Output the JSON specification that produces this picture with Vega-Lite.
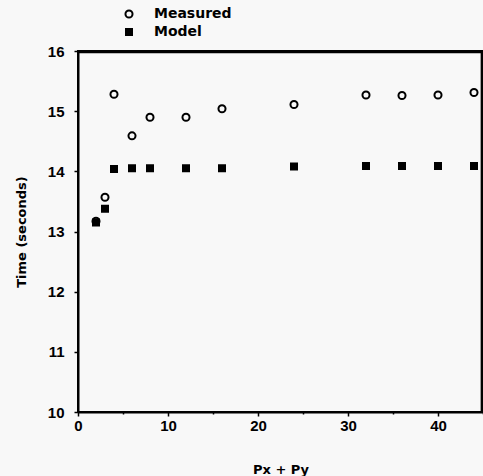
{
  "$schema": "https://vega.github.io/schema/vega-lite/v6.json",
  "width": 405,
  "height": 361,
  "autosize": {"type": "none"},
  "padding": {"left": 78, "top": 51, "right": 0, "bottom": 64},
  "background": "#f8f8f8",
  "config": {
    "view": {"stroke": "black", "strokeWidth": 2},
    "axis": {"grid": false, "domainColor": "black", "domainWidth": 2, "tickColor": "black", "tickWidth": 1.5, "labelFont": "Liberation Sans", "labelFontWeight": "bold", "labelFontSize": 15, "labelColor": "black", "titleFont": "DejaVu Sans", "titleFontWeight": "bold", "titleFontSize": 13, "titleColor": "black"}
  },
  "datasets": {
    "points": [
      {"px": 2, "t": 13.17, "series": "Measured"},
      {"px": 3, "t": 13.57, "series": "Measured"},
      {"px": 4, "t": 15.28, "series": "Measured"},
      {"px": 6, "t": 14.59, "series": "Measured"},
      {"px": 8, "t": 14.9, "series": "Measured"},
      {"px": 12, "t": 14.9, "series": "Measured"},
      {"px": 16, "t": 15.04, "series": "Measured"},
      {"px": 24, "t": 15.11, "series": "Measured"},
      {"px": 32, "t": 15.27, "series": "Measured"},
      {"px": 36, "t": 15.26, "series": "Measured"},
      {"px": 40, "t": 15.27, "series": "Measured"},
      {"px": 44, "t": 15.31, "series": "Measured"},
      {"px": 2, "t": 13.15, "series": "Model"},
      {"px": 3, "t": 13.38, "series": "Model"},
      {"px": 4, "t": 14.04, "series": "Model"},
      {"px": 6, "t": 14.05, "series": "Model"},
      {"px": 8, "t": 14.05, "series": "Model"},
      {"px": 12, "t": 14.05, "series": "Model"},
      {"px": 16, "t": 14.05, "series": "Model"},
      {"px": 24, "t": 14.08, "series": "Model"},
      {"px": 32, "t": 14.09, "series": "Model"},
      {"px": 36, "t": 14.09, "series": "Model"},
      {"px": 40, "t": 14.09, "series": "Model"},
      {"px": 44, "t": 14.09, "series": "Model"}
    ],
    "frame": [{"x0": 0, "x1": 44.85, "y0": 10, "y1": 15.98}]
  },
  "layer": [
    {
      "data": {"name": "frame"},
      "mark": {"type": "rect", "fill": null, "fillOpacity": 0, "stroke": "black", "strokeWidth": 2},
      "encoding": {
        "x": {"field": "x0", "type": "quantitative"},
        "x2": {"field": "x1"},
        "y": {"field": "y0", "type": "quantitative"},
        "y2": {"field": "y1"}
      }
    },
    {
      "data": {"name": "points"},
      "mark": {"type": "point", "stroke": "black", "strokeWidth": 2, "opacity": 1},
      "encoding": {
        "x": {
          "field": "px", "type": "quantitative",
          "scale": {"domain": [0, 45], "nice": false, "zero": false},
          "axis": {"title": "Px + Py", "values": [0, 5, 10, 15, 20, 25, 30, 35, 40, 45], "labelExpr": "datum.value % 10 == 0 ? format(datum.value, 'd') : ''", "tickSize": {"condition": {"test": "datum.value % 10 != 0", "value": 2}, "value": 4}, "labelPadding": 2, "titlePadding": 30, "labelFlush": false}
        },
        "y": {
          "field": "t", "type": "quantitative",
          "scale": {"domain": [10, 16], "nice": false, "zero": false},
          "axis": {"title": "Time (seconds)", "values": [10, 10.5, 11, 11.5, 12, 12.5, 13, 13.5, 14, 14.5, 15, 15.5, 16], "labelExpr": "datum.value % 1 == 0 ? format(datum.value, 'd') : ''", "tickSize": {"condition": {"test": "datum.value % 1 != 0", "value": 2}, "value": 4}, "labelPadding": 10, "titlePadding": 19}
        },
        "shape": {
          "field": "series", "type": "nominal",
          "scale": {"domain": ["Measured", "Model"], "range": ["circle", "square"]},
          "legend": {"title": null, "orient": "none", "legendX": 44, "legendY": -44, "labelFont": "DejaVu Sans", "labelFontWeight": "bold", "labelFontSize": 14, "labelColor": "black", "labelOffset": 18, "rowPadding": 3, "symbolStrokeColor": "black", "symbolStrokeWidth": 2}
        },
        "fill": {
          "field": "series", "type": "nominal",
          "scale": {"domain": ["Measured", "Model"], "range": ["#f8f8f8", "black"]}
        },
        "size": {
          "field": "series", "type": "nominal",
          "scale": {"domain": ["Measured", "Model"], "range": [50, 36]}
        }
      }
    }
  ]
}
